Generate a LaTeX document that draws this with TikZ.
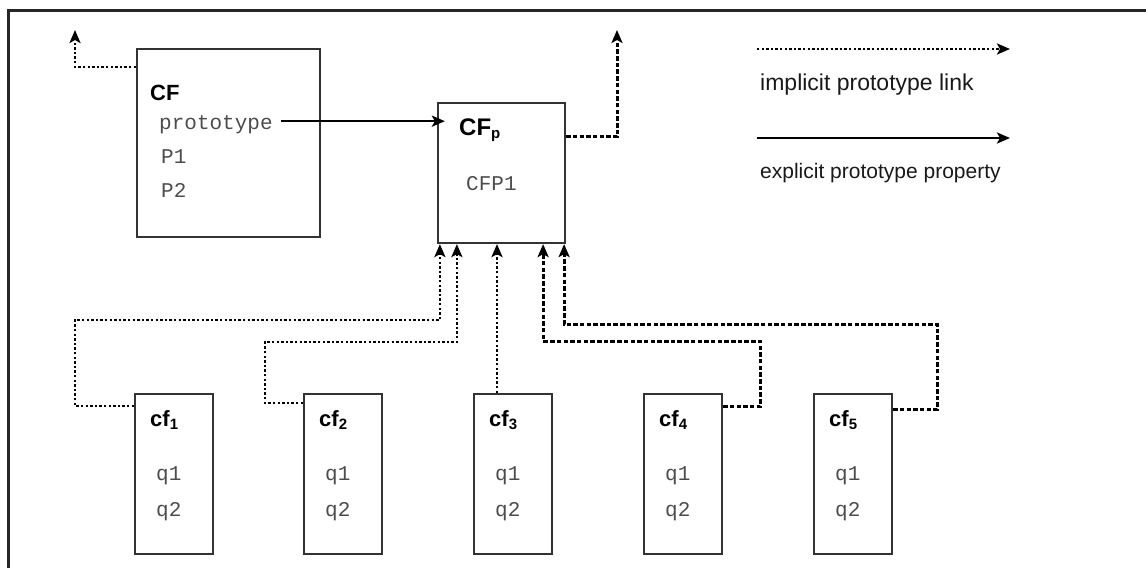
\documentclass[tikz,border=0pt]{standalone}
\usepackage{fontspec}
\setmainfont{Liberation Sans}
\setmonofont{Liberation Mono}
\usetikzlibrary{positioning,arrows.meta}
\newcommand{\lowsub}[1]{\raisebox{-0.3ex}{\fontsize{15}{15}\selectfont #1}}

\begin{document}
\begin{tikzpicture}[x=1pt,y=-1pt,
  tip/.style={-{Stealth[length=13pt,width=11pt,inset=3pt]}},
  frame/.style={draw=black!85,line width=3pt},
  objbox/.style={draw=black!80,line width=2.2pt,inner sep=0pt},
  title/.style={font=\fontsize{22}{22}\selectfont\bfseries,anchor=base west,inner sep=0pt},
  slot/.style={font=\fontsize{21}{21}\selectfont\ttfamily,text=black!70,anchor=base west,inner sep=0pt},
  legend/.style={anchor=base west,inner sep=0pt,text=black!90},
  implicit/.style={tip,line width=2.6pt,dash pattern=on 2.4pt off 2.2pt},
  implicitheavy/.style={tip,line width=3pt,dash pattern=on 4.5pt off 2.2pt},
  explicit/.style={tip,line width=2.6pt}]
\useasboundingbox (0,0) rectangle (1146,568);
\draw[frame] (8,568) -- (8,10) -- (1146,10);

% objects
\node[objbox,minimum width=183pt,minimum height=188pt] (CF) at (228.5,143) {};
\node[title] (CFlabel) at (150,100) {CF};
\node[slot] (proto) at (159,129) {prototype};
\node[slot] (P1) at (161,163) {P1};
\node[slot] (P2) at (161,197) {P2};

\node[objbox,minimum width=127pt,minimum height=140pt] (CFp) at (501.5,173) {};
\node[title,font=\fontsize{24}{24}\selectfont\bfseries] (CFplabel) at (459,135) {CF\lowsub{p}};
\node[slot] (CFP1) at (466,190) {CFP1};

\foreach \i/\x in {1/174,2/343,3/513,4/683,5/853}{
  \node[objbox,minimum width=78pt,minimum height=160pt] (cf\i) at (\x,474) {};
  \node[title] (cf\i label) at (\x-24,426) {cf\lowsub{\i}};
  \node[slot] (cf\i q1) at (\x-18,480) {q1};
  \node[slot] (cf\i q2) at (\x-18,516) {q2};
}

% links
\coordinate (upL) at (75,30);
\coordinate (upR) at (617,30);
\draw[implicit] ([yshift=-19pt]CF.north west) -| (upL);
\draw[implicitheavy] ([yshift=-35pt]CFp.north east) -| (upR);
\draw[explicit] ([xshift=8pt,yshift=3pt]proto.east) -- ([xshift=8pt,yshift=3pt]proto.east -| CFp.west);

\draw[implicit] ([yshift=-13pt]cf1.north west) -| (75,320) -| ([xshift=3pt]CFp.south west);
\draw[implicit] ([yshift=-10pt]cf2.north west) -| (265,342) -| ([xshift=20pt]CFp.south west);
\draw[implicit] ([xshift=-16pt]cf3.north) -- ([xshift=-16pt]cf3.north |- CFp.south);
\draw[implicitheavy] ([yshift=-14pt]cf4.north east) -| (760,341) -| ([xshift=-23pt]CFp.south east);
\draw[implicitheavy] ([yshift=-17pt]cf5.north east) -| (937,324) -| ([xshift=-2pt]CFp.south east);

% legend
\coordinate (impA) at (757,49);
\coordinate (impB) at (1010,49);
\coordinate (expA) at (757,138);
\coordinate (expB) at (1010,138);
\draw[implicit] (impA) -- (impB);
\node[legend,font=\fontsize{23}{23}\selectfont] (implabel) at (760,90) {implicit prototype link};
\draw[explicit] (expA) -- (expB);
\node[legend,font=\fontsize{21}{21}\selectfont] (explabel) at (760,178) {explicit prototype property};
\end{tikzpicture}
\end{document}
